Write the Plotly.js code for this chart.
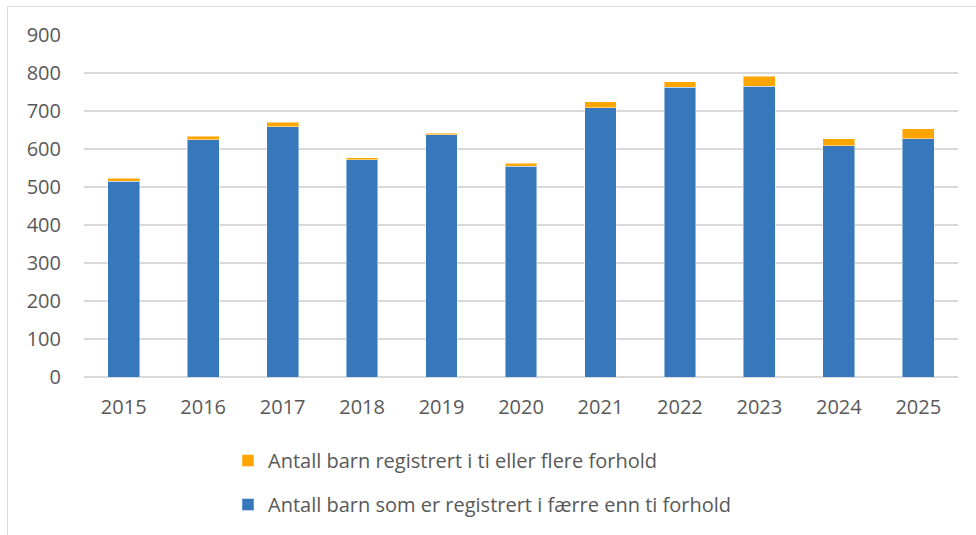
<!DOCTYPE html>
<html>
<head>
<meta charset="utf-8">
<script src="https://cdn.plot.ly/plotly-3.0.1.min.js"></script>
<style>
  html, body { margin: 0; padding: 0; background: #ffffff; }
  #frame { position: absolute; left: 7px; top: 6px; width: 980px; height: 540px; border: 1px solid #d9d9d9; box-sizing: border-box; }
  #chart { position: absolute; left: 0; top: 0; width: 976px; height: 535px; }
</style>
</head>
<body>
<div id="frame"></div>
<div id="chart"></div>
<script>
const years = ["2015","2016","2017","2018","2019","2020","2021","2022","2023","2024","2025"];
const underTen = [515, 625, 658, 572, 637, 554, 709, 763, 765, 609, 627];
const tenOrMore = [8, 9, 12, 5, 5, 9, 15, 14, 27, 18, 26];
const nameUnderTen = "Antall barn som er registrert i færre enn ti forhold";
const nameTenOrMore = "Antall barn registrert i ti eller flere forhold";

const font = "'Open Sans', 'Noto Sans', sans-serif";

const traces = [
  {
    type: "bar", x: years, y: underTen, name: nameUnderTen,
    marker: { color: "#3778bd", line: { color: "rgba(255,255,255,0.45)", width: 1 } },
    legendgroup: "a", legendrank: 2, hoverinfo: "x+y"
  },
  {
    type: "bar", x: years, y: tenOrMore, name: nameTenOrMore,
    marker: { color: "#ffa500", line: { color: "rgba(255,255,255,0.45)", width: 1 } },
    legendgroup: "b", legendrank: 1, hoverinfo: "x+y"
  }
];

const layout = {
  width: 976, height: 535,
  margin: { l: 83.5, r: 17.7, t: 35, b: 157.7, pad: 0, autoexpand: false },
  paper_bgcolor: "rgba(0,0,0,0)",
  plot_bgcolor: "rgba(0,0,0,0)",
  barmode: "stack",
  bargap: 0.6,
  font: { family: font, size: 20, color: "#595959" },
  xaxis: {
    type: "category",
    showgrid: false, zeroline: false, showline: false,
    ticks: "", ticklabelstandoff: 16, tickangle: 0,
    tickfont: { family: font, size: 20, color: "#595959" }
  },
  yaxis: {
    range: [0, 900], dtick: 100, tick0: 0,
    showgrid: true, gridcolor: "#d9d9d9", gridwidth: 1.3,
    zeroline: true, zerolinecolor: "#d9d9d9", zerolinewidth: 1.3,
    showline: false, ticks: "", ticklabelstandoff: 22,
    tickfont: { family: font, size: 20, color: "#595959" }
  },
  legend: {
    orientation: "v",
    traceorder: "grouped",
    tracegroupgap: 15,
    xref: "container", yref: "container",
    x: 228 / 976, xanchor: "left",
    y: 1 - 441 / 535, yanchor: "top",
    font: { family: font, size: 20, color: "#595959" },
    itemwidth: 30,
    bgcolor: "rgba(0,0,0,0)"
  },
  showlegend: true
};

Plotly.newPlot("chart", traces, layout, { displayModeBar: false, staticPlot: true });
</script>
</body>
</html>
